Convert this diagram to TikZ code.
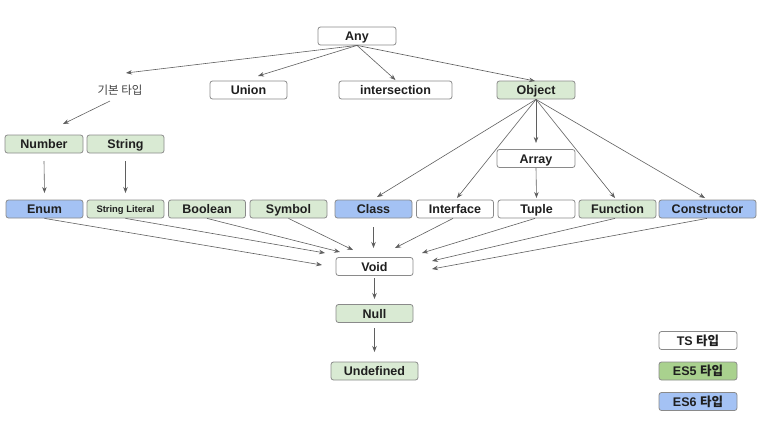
\documentclass[tikz,border=0pt]{standalone}
\usepackage{fontspec}
\setmainfont{Liberation Sans}
\newfontfamily\krfont{Noto Sans CJK KR}
\usetikzlibrary{arrows.meta}
\definecolor{boxline}{HTML}{8A8A8A}
\definecolor{es5light}{HTML}{D9EAD3}
\definecolor{es5dark}{HTML}{A9D18E}
\definecolor{es6blue}{HTML}{A4C2F4}
\definecolor{arrowgray}{HTML}{5F5F5F}
\definecolor{ink}{HTML}{1F1F1F}
\begin{document}
\begin{tikzpicture}[x=1pt,y=-1pt,
  box/.style={draw=boxline, line width=0.8pt, rounded corners=2.5pt,
    minimum width=77pt, minimum height=18pt, inner sep=0pt, text=ink,
    text height=9pt, text depth=0pt,
    font=\fontsize{12.5}{14}\selectfont\bfseries, fill=white},
  tsbox/.style={box},
  es5box/.style={box, fill=es5light},
  es6box/.style={box, fill=es6blue},
  conn/.style={draw=arrowgray, line width=0.6pt, -{Stealth[length=6pt,width=4.5pt]}},
]
\useasboundingbox (0,0) rectangle (769,437);

% top level
\node[tsbox, minimum width=78pt] (any) at (357,36) {Any};
\node[text=ink!85, font=\fontsize{11.5}{13}\selectfont\krfont, inner sep=1pt] (basic) at (120,90) {기본 타입};
\node[tsbox] (union) at (248.5,90) {Union};
\node[tsbox, minimum width=113pt] (inter) at (395.5,90) {intersection};
\node[es5box, minimum width=78pt] (object) at (536,90) {Object};

% primitive types
\node[es5box, minimum width=78pt] (number) at (44,144) {Number};
\node[es5box] (string) at (125.5,144) {String};
\node[tsbox, minimum width=78pt] (array) at (536,158.5) {Array};

% second row
\node[es5box, font=\fontsize{9.4}{11}\selectfont\bfseries, text height=7pt] (strlit) at (125.5,209) {String Literal};
\node[es6box] (enum) at (44.5,209) {Enum};
\node[es5box] (boolean) at (207,209) {Boolean};
\node[es5box] (symbol) at (288.5,209) {Symbol};
\node[es6box] (class) at (373.5,209) {Class};
\node[tsbox] (iface) at (455,209) {Interface};
\node[tsbox] (tuple) at (536.5,209) {Tuple};
\node[es5box] (func) at (617.5,209) {Function};
\node[es6box, minimum width=97pt] (ctor) at (707.5,209) {Constructor};

% bottom types
\node[tsbox] (void) at (374.5,266.5) {Void};
\node[es5box] (null) at (374.5,313.5) {Null};
\node[es5box, minimum width=87pt] (undef) at (374.5,371) {Undefined};

% legend
\node[tsbox, minimum width=78pt] (legts) at (698,340.5) {TS {\krfont 타입}};
\node[box, fill=es5dark, minimum width=78pt] (leges5) at (698,371) {ES5 {\krfont 타입}};
\node[es6box, minimum width=78pt] (leges6) at (698,401.5) {ES6 {\krfont 타입}};

% connectors from Any
\draw[conn] (any.south) -- ([shift={(6,-17)}]basic.center);
\draw[conn] (any.south) -- ([shift={(9.5,-14)}]union.center);
\draw[conn] (any.south) -- ([shift={(0,-10)}]inter.center);
\draw[conn] (any.south) -- ([shift={(-1,-9)}]object.center);

% primitive branch
\draw[conn] ([shift={(-10,11)}]basic.center) -- ([shift={(19,-20)}]number.center);
\draw[conn] ([shift={(0,17)}]number.center) -- ([shift={(0,-16)}]enum.center);
\draw[conn] ([shift={(0,17)}]string.center) -- ([shift={(0,-16)}]strlit.center);

% object branch
\draw[conn] (object.south) -- ([shift={(3.5,-12)}]class.center);
\draw[conn] (object.south) -- ([shift={(2,-11)}]iface.center);
\draw[conn] (object.south) -- ([shift={(0,-15.5)}]array.center);
\draw[conn] (object.south) -- ([shift={(-2.5,-11)}]func.center);
\draw[conn] (object.south) -- ([shift={(-2.5,-11)}]ctor.center);
\draw[conn] (array.south) -- ([shift={(0,-11)}]tuple.center);

% everything narrows to Void
\draw[conn] (enum.south) -- ([shift={(-52.5,-1.5)}]void.center);
\draw[conn] (strlit.south) -- ([shift={(-49.5,-13.5)}]void.center);
\draw[conn] (boolean.south) -- ([shift={(-34.5,-14.5)}]void.center);
\draw[conn] (symbol.south) -- ([shift={(-21.5,-16.5)}]void.center);
\draw[conn] ([shift={(0,18)}]class.center) -- ([shift={(-1,-18.5)}]void.center);
\draw[conn] ([shift={(-2,0)}]iface.south) -- ([shift={(20.5,-18.5)}]void.center);
\draw[conn] ([shift={(-1.5,0)}]tuple.south) -- ([shift={(47.5,-13.5)}]void.center);
\draw[conn] ([shift={(-2.5,0)}]func.south) -- ([shift={(57.5,-5.5)}]void.center);
\draw[conn] ([shift={(-0.5,0)}]ctor.south) -- ([shift={(57.5,2.5)}]void.center);

% down the chain
\draw[conn] ([shift={(0,11.5)}]void.center) -- ([shift={(0,-14.5)}]null.center);
\draw[conn] ([shift={(0,14.5)}]null.center) -- ([shift={(0,-19)}]undef.center);
\end{tikzpicture}
\end{document}
